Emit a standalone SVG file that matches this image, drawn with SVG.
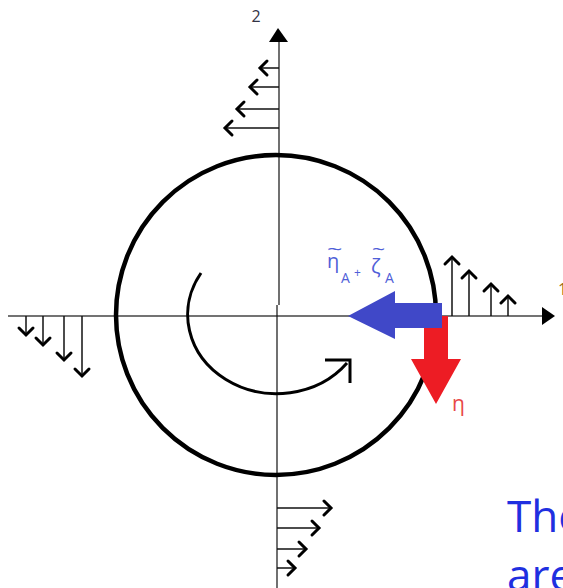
<svg xmlns="http://www.w3.org/2000/svg" width="563" height="588" viewBox="0 0 563 588">
<style>
.axis{stroke:#444;stroke-width:1.5;fill:none}
.vaxis{stroke:#111;stroke-width:1.2;fill:none}
.shaft{stroke:#111;stroke-width:1.5;fill:none}
.lbl{font-family:"Open Sans","DejaVu Sans",sans-serif}
</style>
<defs>
<marker id="chev" viewBox="-10 -10 20 20" refX="0" refY="0" markerWidth="20" markerHeight="20" markerUnits="userSpaceOnUse" orient="auto" overflow="visible">
<path d="M-7,-7 L0,0 L-7,7" fill="none" stroke="#000" stroke-width="3" stroke-linecap="round" stroke-linejoin="miter"/>
</marker>
</defs>
<rect width="563" height="588" fill="#fff"/>
<g id="axes">
<line class="axis" x1="8" y1="316" x2="545" y2="316"/>
<polygon points="555,316 542,307 542,325" fill="#000"/>
<line class="vaxis" x1="279" y1="40" x2="279" y2="305"/>
<line class="vaxis" x1="277" y1="305" x2="277" y2="588"/>
<polygon points="278,28 269,42 288,42" fill="#000"/>
<text class="lbl" x="256" y="22" font-size="16" fill="#334" text-anchor="middle">2</text>
<text class="lbl" x="558" y="295" font-size="16" fill="#a07020">1</text>
</g>
<g id="circle">
<circle cx="276" cy="315" r="160" fill="none" stroke="#000" stroke-width="4.5"/>
</g>
<g id="rotation">
<path d="M201,273 A89,79 0 0,0 347,363" fill="none" stroke="#000" stroke-width="3"/>
<path d="M325,360 L350,360 L350,383" fill="none" stroke="#000" stroke-width="3"/>
</g>
<g id="connectors">
<line class="shaft" x1="279" y1="68" x2="260" y2="68" marker-end="url(#chev)"/>
<line class="shaft" x1="279" y1="87" x2="250" y2="87" marker-end="url(#chev)"/>
<line class="shaft" x1="279" y1="109" x2="237" y2="109" marker-end="url(#chev)"/>
<line class="shaft" x1="279" y1="128" x2="225" y2="128" marker-end="url(#chev)"/>
<line class="shaft" x1="452" y1="316" x2="452" y2="257" marker-end="url(#chev)"/>
<line class="shaft" x1="469" y1="316" x2="469" y2="271" marker-end="url(#chev)"/>
<line class="shaft" x1="491" y1="316" x2="491" y2="284" marker-end="url(#chev)"/>
<line class="shaft" x1="508" y1="316" x2="508" y2="296" marker-end="url(#chev)"/>
<line class="shaft" x1="26" y1="316" x2="26" y2="335" marker-end="url(#chev)"/>
<line class="shaft" x1="43" y1="316" x2="43" y2="345" marker-end="url(#chev)"/>
<line class="shaft" x1="64" y1="316" x2="64" y2="360" marker-end="url(#chev)"/>
<line class="shaft" x1="82" y1="316" x2="82" y2="376" marker-end="url(#chev)"/>
<line class="shaft" x1="277" y1="508" x2="331" y2="508" marker-end="url(#chev)"/>
<line class="shaft" x1="277" y1="528" x2="319" y2="528" marker-end="url(#chev)"/>
<line class="shaft" x1="277" y1="549" x2="306" y2="549" marker-end="url(#chev)"/>
<line class="shaft" x1="277" y1="568" x2="295" y2="568" marker-end="url(#chev)"/>
</g>
<g id="eta-arrow">
<polygon points="424,316 448,316 448,359 461,359 436,404 411,359 424,359" fill="#ed1c24"/>
<text class="lbl" x="452" y="411" font-size="21" fill="#e84848">η</text>
</g>
<g id="sum-arrow">
<polygon points="442,303 395,303 395,291 348,316 395,339 395,328 442,328" fill="#4048c8"/>
<g class="lbl" fill="#5060d8">
<text x="327" y="268" font-size="20">η</text>
<text x="0" y="0" font-size="20" transform="translate(327,256) scale(1.35,0.9)">~</text>
<text x="341" y="283" font-size="14">A</text>
<text x="354" y="277" font-size="12">+</text>
<text x="371" y="273" font-size="20">ζ</text>
<text x="0" y="0" font-size="20" transform="translate(372,256) scale(1.15,0.9)">~</text>
<text x="385" y="283" font-size="14">A</text>
</g>
</g>
<g id="caption" class="lbl" fill="#1f2fe0" font-size="44">
<text x="507" y="532">The</text>
<text x="507" y="591">are</text>
</g>
</svg>
